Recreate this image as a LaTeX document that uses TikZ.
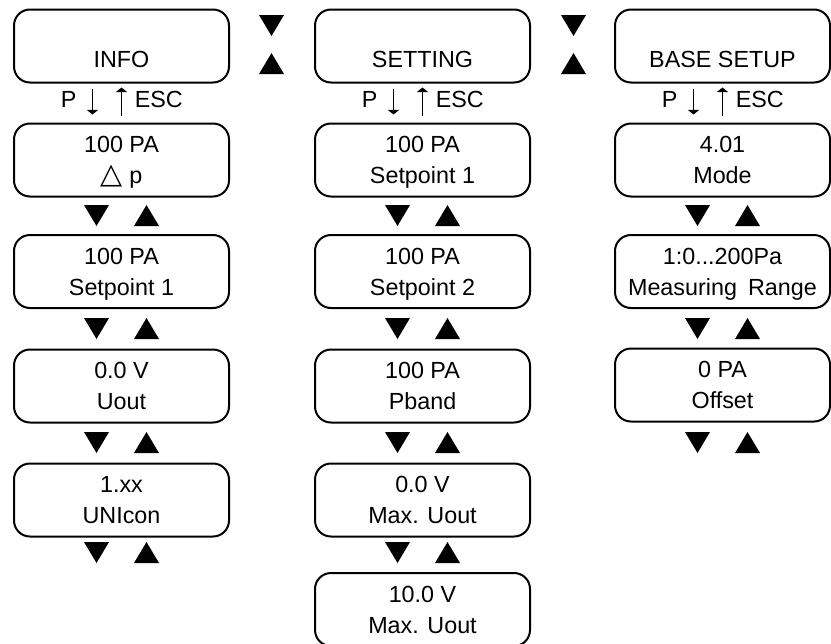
\documentclass[tikz,border=0pt]{standalone}
\usepackage{fontspec}
\setmainfont{Liberation Sans}
\newfontfamily\dvs{DejaVu Sans}
\usetikzlibrary{arrows.meta,calc}
\newcommand\dtri[2]{\fill[black] (#1-12.5,#2) -- (#1+12.5,#2) -- (#1,#2+21) -- cycle;}
\newcommand\utri[2]{\fill[black] (#1-12.5,#2+21) -- (#1+12.5,#2+21) -- (#1,#2) -- cycle;}
\newcommand\pairtri[2]{\dtri{#1-25}{#2}\utri{#1+25}{#2}}
\newcommand\deltasym{{\dvs\fontsize{21.5}{21.5}\selectfont △}}
\begin{document}
\begin{tikzpicture}[x=0.75pt,y=-0.75pt,
  box/.style={draw, line width=1.5pt, rounded corners=12pt, minimum width=161.25pt,
    minimum height=54.75pt, align=center, text depth=0pt, inner sep=0pt,
    font=\fontsize{17.5}{23.25}\selectfont},
  lbl/.style={inner sep=0pt, font=\fontsize{17.5}{23.25}\selectfont},
  parr/.style={line width=1.1pt, -{Triangle[width=8.5pt,length=3.5pt]}}]
\useasboundingbox (0,0) rectangle (831,643);

% ---------- column 1: INFO
\node[box] (info) at (121.5,46) {};
\node[lbl,anchor=base] (infot) at (121.5,67) {INFO};
\node[box] (i1) at (121.5,160) {100 PA\\\deltasym\ p};
\node[box] (i2) at (121.5,271.5) {100 PA\\Setpoint 1};
\node[box] (i3) at (121.5,386) {0.0 V\\Uout};
\node[box] (i4) at (121.5,500) {1.xx\\UNIcon};

% ---------- column 2: SETTING
\node[box] (set) at (422.5,46) {};
\node[lbl,anchor=base] (sett) at (422.5,67) {SETTING};
\node[box] (s1) at (422.5,160) {100 PA\\Setpoint 1};
\node[box] (s2) at (422.5,271.5) {100 PA\\Setpoint 2};
\node[box] (s3) at (422.5,386) {100 PA\\Pband};
\node[box] (s4) at (422.5,500) {0.0 V\\Max. Uout};
\node[box] (s5) at (422.5,609.5) {10.0 V\\Max. Uout};

% ---------- column 3: BASE SETUP
\node[box] (base) at (722.5,46) {};
\node[lbl,anchor=base] (baset) at (722.5,67) {BASE SETUP};
\node[box] (b1) at (722.5,160) {4.01\\Mode};
\node[box] (b2) at (722.5,271.5) {1:0...200Pa\\Measuring\hspace{0.2em} Range};
\node[box] (b3) at (722.5,385) {0 PA\\Offset};

% ---------- P / ESC rows
\foreach \t/\s/\cx in {info/i1/121.5, set/s1/422.5, base/b1/722.5}{
  \node[lbl,anchor=base west] (\t P) at (\cx-61,107) {P};
  \node[lbl,anchor=base west] (\t E) at (\cx+13,107) {ESC};
  \draw[parr, shorten <=3.75pt, shorten >=6pt] ($(\t.south)+(-29,0)$) -- ($(\s.north)+(-29,0)$);
  \draw[parr, shorten <=5.25pt, shorten >=3pt] ($(\s.north)+(0,0)$) -- ($(\t.south)+(0,0)$);
}

% ---------- top triangles between columns
\dtri{271.5}{15}\utri{271.5}{53}
\dtri{573.5}{15}\utri{573.5}{53}

% ---------- triangles between boxes
\foreach \y in {205,318,432,542}{\pairtri{121.5}{\y}\pairtri{422.5}{\y}}
\foreach \y in {205,318,432}{\pairtri{722.5}{\y}}
\end{tikzpicture}
\end{document}
